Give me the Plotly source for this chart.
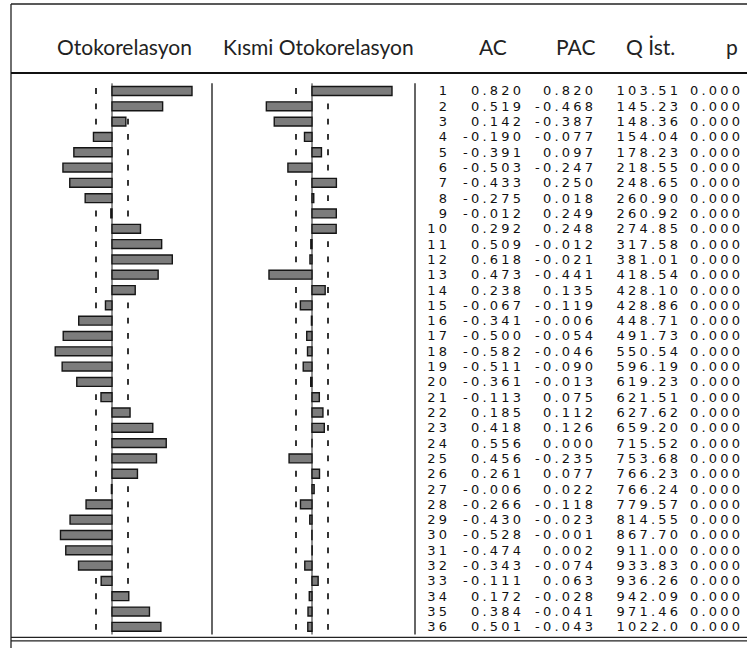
import plotly.graph_objects as go

# ---------------- data ----------------
lags = list(range(1, 37))
ac = [0.820, 0.519, 0.142, -0.190, -0.391, -0.503, -0.433, -0.275, -0.012, 0.292,
      0.509, 0.618, 0.473, 0.238, -0.067, -0.341, -0.500, -0.582, -0.511, -0.361,
      -0.113, 0.185, 0.418, 0.556, 0.456, 0.261, -0.006, -0.266, -0.430, -0.528,
      -0.474, -0.343, -0.111, 0.172, 0.384, 0.501]
pac = [0.820, -0.468, -0.387, -0.077, 0.097, -0.247, 0.250, 0.018, 0.249, 0.248,
       -0.012, -0.021, -0.441, 0.135, -0.119, -0.006, -0.054, -0.046, -0.090, -0.013,
       0.075, 0.112, 0.126, 0.000, -0.235, 0.077, 0.022, -0.118, -0.023, -0.001,
       0.002, -0.074, 0.063, -0.028, -0.041, -0.043]
q_stat = [103.51, 145.23, 148.36, 154.04, 178.23, 218.55, 248.65, 260.90, 260.92, 274.85,
          317.58, 381.01, 418.54, 428.10, 428.86, 448.71, 491.73, 550.54, 596.19, 619.23,
          621.51, 627.62, 659.20, 715.52, 753.68, 766.23, 766.24, 779.57, 814.55, 867.70,
          911.00, 933.83, 936.26, 942.09, 971.46, 1022.0]
p_val = [0.000] * 36
conf_bound = 0.164
headers = ["Otokorelasyon", "Kısmi Otokorelasyon", "AC", "PAC", "Q İst.", "p"]

# ---------------- layout helpers ----------------
W, H = 747, 648
def px(x):
    return x / W
def py(y):
    return 1 - y / H

PITCH = 15.31
TOP, BOT = 77.5, 637.0
r_top = 1 - (91 - TOP) / PITCH
r_bot = r_top + (BOT - TOP) / PITCH

fig = go.Figure()

bar_style = dict(color="#7c7c7c", line=dict(color="#151515", width=1.4))
fig.add_trace(go.Bar(x=ac, y=lags, orientation="h", width=0.58, marker=bar_style,
                     xaxis="x", yaxis="y", showlegend=False, hoverinfo="skip"))
fig.add_trace(go.Bar(x=pac, y=lags, orientation="h", width=0.58, marker=bar_style,
                     xaxis="x2", yaxis="y", showlegend=False, hoverinfo="skip"))

LS = 3.2  # letter spacing of the table numbers (px)
tfont = dict(family="DejaVu Sans", size=13, color="#111")
def fmt3(v):
    return f"{v:.3f}"
def fmtq(v):
    return f"{v:.2f}" if v < 1000 else f"{v:.1f}"

columns = [
    (447 + LS, [str(l) for l in lags], "middle left"),
    (521 + LS, [fmt3(v) for v in ac], "middle left"),
    (593 + LS, [fmt3(v) for v in pac], "middle left"),
    (678 + LS, [fmtq(v) for v in q_stat], "middle left"),
    (690, [fmt3(v) for v in p_val], "middle right"),
]
for xpos, texts, tpos in columns:
    fig.add_trace(go.Scatter(x=[xpos] * len(lags), y=[l + 0.08 for l in lags], mode="text",
                             text=texts, textposition=tpos, textfont=tfont, xaxis="x3",
                             yaxis="y", showlegend=False, hoverinfo="skip", cliponaxis=False))

shapes = []
# confidence dashes (one short dash per lag) under the bars
for xr in ("x", "x2"):
    for l in lags:
        for s in (-1, 1):
            shapes.append(dict(type="line", xref=xr, yref="y", x0=s * conf_bound, x1=s * conf_bound,
                               y0=l - 0.19, y1=l + 0.19, layer="below",
                               line=dict(color="#111", width=1.7)))
    shapes.append(dict(type="line", xref=xr, yref="y", x0=0, x1=0, y0=0.5, y1=36.5,
                       layer="below", line=dict(color="#222", width=1)))
# panel dividers
for xd in (212, 415):
    shapes.append(dict(type="line", xref="paper", yref="y", x0=px(xd), x1=px(xd),
                       y0=0.5, y1=36.5, line=dict(color="#333", width=1.5)))
# frame
shapes += [
    dict(type="line", xref="paper", yref="paper", x0=px(11), x1=1, y0=py(4), y1=py(4),
         line=dict(color="#222", width=1.3)),
    dict(type="line", xref="paper", yref="paper", x0=px(11), x1=px(11), y0=py(4), y1=0,
         line=dict(color="#222", width=1.3)),
    dict(type="line", xref="paper", yref="paper", x0=px(11), x1=1, y0=py(73), y1=py(73),
         line=dict(color="#111", width=2.2)),
    dict(type="line", xref="paper", yref="paper", x0=px(11), x1=1, y0=py(637.3), y1=py(637.3),
         line=dict(color="#222", width=1.3)),
    dict(type="line", xref="paper", yref="paper", x0=px(11), x1=1, y0=py(640.8), y1=py(640.8),
         line=dict(color="#222", width=1.3)),
]

hfont = dict(family="Lato", size=21, color="#222")
hx = [124, 318, 493, 575, 650, 732]
annotations = [dict(text=t, x=px(x), y=py(47), xref="paper", yref="paper", showarrow=False,
                    xanchor="center", yanchor="middle", font=hfont)
               for t, x in zip(headers, hx)]

ax_common = dict(visible=False, fixedrange=True, range=[-1.025, 1.025])
fig.update_layout(
    width=W, height=H, margin=dict(l=0, r=0, t=0, b=0),
    paper_bgcolor="white", plot_bgcolor="rgba(0,0,0,0)",
    xaxis=dict(domain=[px(12), px(212)], anchor="y", **ax_common),
    xaxis2=dict(domain=[px(212), px(412)], anchor="y", **ax_common),
    xaxis3=dict(domain=[0, 1], range=[0, W], anchor="y", visible=False, fixedrange=True),
    yaxis=dict(domain=[py(BOT), py(TOP)], range=[r_bot, r_top], visible=False, fixedrange=True),
    shapes=shapes, annotations=annotations, barmode="overlay",
)

post = """
var gd = document.getElementById('{plot_id}');
gd.querySelectorAll('.textpoint text').forEach(function(t){ t.style.letterSpacing = '%spx'; });
""" % LS
fig.write_html("out.html", post_script=post, config={"displayModeBar": False})
